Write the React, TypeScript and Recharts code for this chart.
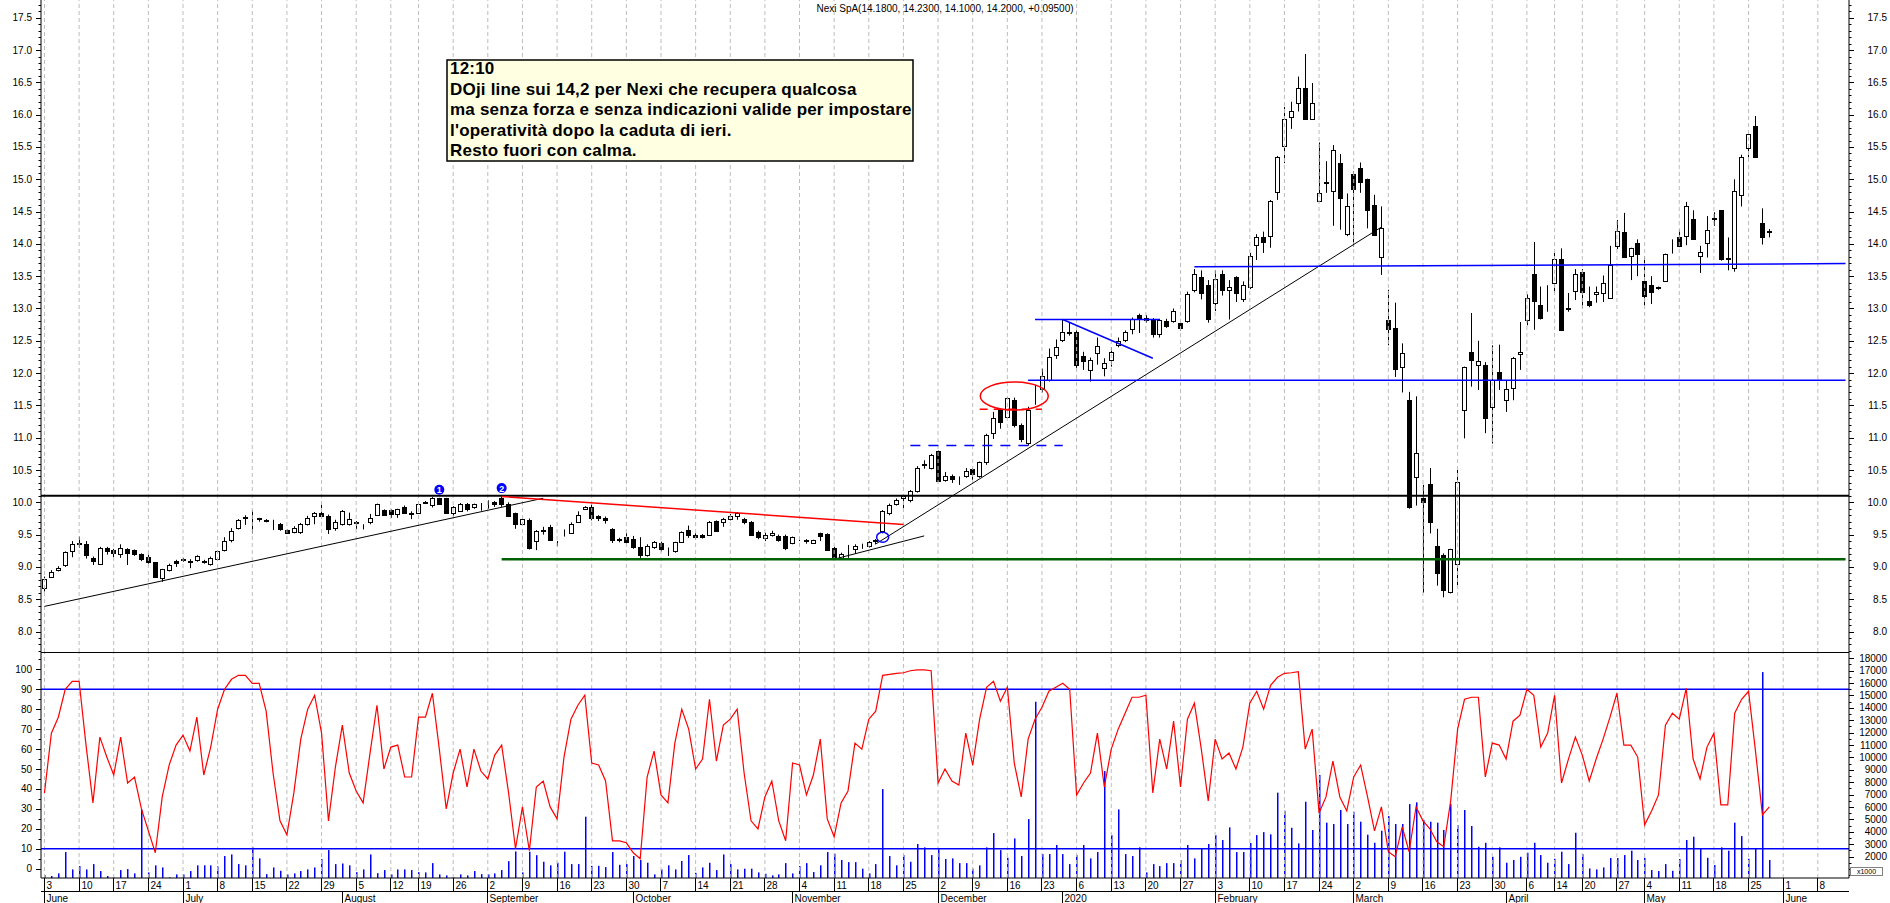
import React from "react";
import { Bar, ComposedChart, Line, ReferenceDot, ReferenceLine, XAxis, YAxis } from "recharts";

const FONT = "'Liberation Sans', Arial, sans-serif";

// trading days, one list per month
const JUN_2019 = [3, 4, 5, 6, 7, 10, 11, 12, 13, 14, 17, 18, 19, 20, 21, 24, 25, 26, 27, 28];
const JUL_2019 = [1, 2, 3, 4, 5, 8, 9, 10, 11, 12, 15, 16, 17, 18, 19, 22, 23, 24, 25, 26, 29, 30, 31];
const AUG_2019 = [1, 2, 5, 6, 7, 8, 9, 12, 13, 14, 16, 19, 20, 21, 22, 23, 26, 27, 28, 29, 30];
const SEP_2019 = [2, 3, 4, 5, 6, 9, 10, 11, 12, 13, 16, 17, 18, 19, 20, 23, 24, 25, 26, 27, 30];
const OCT_2019 = [1, 2, 3, 4, 7, 8, 9, 10, 11, 14, 15, 16, 17, 18, 21, 22, 23, 24, 25, 28, 29, 30, 31];
const NOV_2019 = [1, 4, 5, 6, 7, 8, 11, 12, 13, 14, 15, 18, 19, 20, 21, 22, 25, 26, 27, 28, 29];
const DEC_2019 = [2, 3, 4, 5, 6, 9, 10, 11, 12, 13, 16, 17, 18, 19, 20, 23, 27, 30];
const JAN_2020 = [2, 3, 6, 7, 8, 9, 10, 13, 14, 15, 16, 17, 20, 21, 22, 23, 24, 27, 28, 29, 30, 31];
const FEB_2020 = [3, 4, 5, 6, 7, 10, 11, 12, 13, 14, 17, 18, 19, 20, 21, 24, 25, 26, 27, 28];
const MAR_2020 = [2, 3, 4, 5, 6, 9, 10, 11, 12, 13, 16, 17, 18, 19, 20, 23, 24, 25, 26, 27, 30, 31];
const APR_2020 = [1, 2, 3, 6, 7, 8, 9, 14, 15, 16, 17, 20, 21, 22, 23, 24, 27, 28, 29, 30];
const MAY_2020 = [4, 5, 6, 7, 8, 11, 12, 13, 14, 15, 18, 19, 20, 21, 22, 25, 26, 27, 28, 29];
const JUN_2020 = [1, 2, 3, 4, 5, 8, 9, 10, 11, 12];

const MONTHS: [string, number[]][] = [
  ["2019-06", JUN_2019], ["2019-07", JUL_2019], ["2019-08", AUG_2019], ["2019-09", SEP_2019],
  ["2019-10", OCT_2019], ["2019-11", NOV_2019], ["2019-12", DEC_2019], ["2020-01", JAN_2020],
  ["2020-02", FEB_2020], ["2020-03", MAR_2020], ["2020-04", APR_2020], ["2020-05", MAY_2020],
  ["2020-06", JUN_2020],
];
const MONTH_LABELS = ["June", "July", "August", "September", "October", "November", "December", "2020", "February", "March", "April", "May", "June"];
const SKIPPED_WEEKS = ["2019-12-30"];

const OPEN = [
  8.68, 8.85, 8.95, 9.03, 9.24, 9.36, 9.35, 9.14, 9.04, 9.30,
  9.26, 9.20, 9.28, 9.26, 9.20, 9.16, 9.07, 8.83, 8.95, 9.09,
  9.13, 9.09, 9.10, 9.09, 9.04, 9.13, 9.26, 9.42, 9.61, 9.75,
  9.76, 9.75, 9.73, 9.71, 9.66, 9.57, 9.54, 9.54, 9.67, 9.79,
  9.84, 9.79, 9.61, 9.67, 9.67, 9.69, 9.63, 9.69, 9.80, 9.88,
  9.88, 9.82, 9.92, 9.84, 9.83, 9.99, 9.96, 10.06, 10.06, 9.84,
  9.87, 9.98, 9.92, 9.93, 9.94, 10.01, 10.06, 9.97, 9.83, 9.67,
  9.73, 9.40, 9.56, 9.62, 9.37, 9.49, 9.53, 9.70, 9.89, 9.93,
  9.79, 9.76, 9.58, 9.43, 9.47, 9.43, 9.31, 9.18, 9.31, 9.37,
  9.27, 9.24, 9.38, 9.57, 9.49, 9.49, 9.50, 9.71, 9.69, 9.74,
  9.79, 9.74, 9.70, 9.54, 9.44, 9.50, 9.48, 9.48, 9.37, 9.44,
  9.41, 9.37, 9.52, 9.51, 9.30, 9.14, 9.21, 9.27, 9.32, 9.32,
  9.40, 9.55, 9.84, 9.97, 10.06, 10.04, 10.17, 10.58, 10.53, 10.79,
  10.34, 10.41, 10.35, 10.41, 10.51, 10.40, 10.62, 11.08, 11.43, 11.32,
  11.59, 11.19, 10.92, 11.70, 11.75, 11.89, 12.28, 12.51, 12.62, 12.64,
  12.27, 12.05, 12.31, 12.08, 12.21, 12.43, 12.52, 12.69, 12.90, 12.86,
  12.83, 12.60, 12.81, 12.80, 12.78, 12.81, 13.29, 13.48, 13.36, 13.09,
  13.53, 13.28, 13.48, 13.15, 13.34, 13.99, 14.11, 14.12, 14.81, 15.52,
  15.97, 16.18, 16.41, 15.94, 14.67, 14.95, 14.82, 15.25, 14.16, 15.08,
  15.17, 15.01, 14.60, 13.80, 12.82, 12.70, 12.09, 11.58, 10.39, 10.06,
  10.28, 9.33, 9.19, 8.61, 9.04, 11.43, 12.33, 12.12, 12.12, 11.48,
  12.01, 11.58, 11.77, 12.29, 12.82, 13.53, 13.06, 12.99, 13.40, 13.76,
  12.99, 13.27, 13.56, 13.11, 13.23, 13.24, 13.17, 13.97, 14.18, 13.82,
  14.02, 13.42, 13.37, 13.33, 13.42, 13.96, 14.10, 14.12, 14.39, 13.82,
  14.01, 14.40, 14.52, 13.77, 13.62, 14.75, 15.49, 15.82, 14.33, 14.18,
];

const HIGH = [
  8.85, 8.95, 9.01, 9.24, 9.40, 9.47, 9.40, 9.16, 9.31, 9.31,
  9.28, 9.35, 9.29, 9.27, 9.21, 9.19, 9.07, 8.97, 9.05, 9.11,
  9.14, 9.12, 9.18, 9.11, 9.16, 9.26, 9.46, 9.60, 9.74, 9.80,
  9.88, 9.76, 9.74, 9.73, 9.68, 9.58, 9.63, 9.68, 9.79, 9.85,
  10.00, 9.81, 9.73, 9.88, 9.84, 9.71, 9.66, 9.82, 9.98, 9.89,
  9.89, 9.90, 9.95, 9.86, 9.99, 10.02, 10.08, 10.07, 10.07, 9.94,
  9.99, 9.99, 9.98, 9.99, 10.03, 10.02, 10.09, 10.00, 9.84, 9.75,
  9.75, 9.57, 9.62, 9.65, 9.40, 9.58, 9.69, 9.86, 9.94, 9.97,
  9.80, 9.78, 9.60, 9.45, 9.52, 9.48, 9.46, 9.35, 9.40, 9.39,
  9.30, 9.39, 9.55, 9.64, 9.52, 9.51, 9.71, 9.72, 9.76, 9.82,
  9.85, 9.76, 9.71, 9.56, 9.53, 9.56, 9.50, 9.50, 9.47, 9.46,
  9.43, 9.42, 9.53, 9.52, 9.31, 9.22, 9.34, 9.35, 9.36, 9.40,
  9.43, 9.88, 9.98, 10.06, 10.12, 10.19, 10.56, 10.65, 10.75, 10.80,
  10.47, 10.43, 10.40, 10.53, 10.53, 10.63, 11.06, 11.40, 11.45, 11.63,
  11.62, 11.22, 11.48, 11.82, 12.07, 12.38, 12.52, 12.83, 12.78, 12.66,
  12.33, 12.24, 12.55, 12.23, 12.40, 12.55, 12.66, 12.86, 12.92, 12.90,
  12.85, 12.84, 12.84, 13.00, 12.82, 13.26, 13.61, 13.59, 13.44, 13.59,
  13.59, 13.44, 13.50, 13.42, 13.86, 14.15, 14.19, 14.68, 15.36, 16.12,
  16.20, 16.59, 16.94, 16.49, 15.57, 15.28, 15.53, 15.39, 14.78, 15.12,
  15.26, 15.01, 14.76, 14.58, 13.29, 13.09, 12.46, 11.71, 11.64, 10.27,
  10.53, 9.59, 9.21, 9.28, 10.50, 12.10, 12.93, 12.50, 12.17, 12.43,
  12.44, 11.89, 12.25, 12.79, 13.22, 14.03, 13.34, 13.36, 13.86, 13.93,
  13.24, 13.61, 13.61, 13.34, 13.34, 13.51, 13.97, 14.37, 14.48, 13.94,
  14.07, 13.81, 13.50, 13.34, 13.85, 14.07, 14.22, 14.65, 14.52, 13.97,
  14.43, 14.49, 14.52, 14.10, 15.00, 15.38, 15.70, 15.98, 14.55, 14.23,
];

const LOW = [
  8.62, 8.83, 8.93, 9.00, 9.15, 9.30, 9.13, 9.03, 9.03, 9.19,
  9.15, 9.14, 9.03, 9.17, 9.09, 9.05, 8.84, 8.77, 8.93, 9.00,
  9.08, 8.98, 9.08, 9.05, 9.02, 9.10, 9.24, 9.38, 9.58, 9.65,
  9.52, 9.70, 9.69, 9.57, 9.56, 9.52, 9.52, 9.51, 9.64, 9.66,
  9.77, 9.51, 9.56, 9.64, 9.64, 9.59, 9.58, 9.66, 9.79, 9.79,
  9.76, 9.76, 9.82, 9.74, 9.82, 9.98, 9.92, 9.96, 9.83, 9.78,
  9.85, 9.86, 9.90, 9.87, 9.90, 9.93, 9.93, 9.78, 9.59, 9.65,
  9.27, 9.26, 9.50, 9.41, 9.32, 9.47, 9.52, 9.68, 9.88, 9.72,
  9.71, 9.67, 9.37, 9.38, 9.36, 9.28, 9.14, 9.16, 9.28, 9.24,
  9.17, 9.22, 9.37, 9.45, 9.42, 9.44, 9.49, 9.54, 9.62, 9.72,
  9.73, 9.66, 9.49, 9.43, 9.40, 9.47, 9.39, 9.26, 9.35, 9.40,
  9.36, 9.36, 9.40, 9.25, 9.12, 9.12, 9.14, 9.20, 9.28, 9.30,
  9.35, 9.52, 9.80, 9.95, 9.91, 10.00, 10.15, 10.52, 10.51, 10.32,
  10.32, 10.30, 10.27, 10.38, 10.35, 10.38, 10.58, 10.98, 11.14, 11.30,
  11.16, 10.93, 10.88, 11.51, 11.70, 11.87, 12.22, 12.48, 12.58, 12.08,
  12.05, 11.87, 12.13, 11.95, 12.10, 12.40, 12.48, 12.60, 12.62, 12.78,
  12.55, 12.55, 12.70, 12.78, 12.66, 12.78, 13.25, 13.14, 12.78, 12.96,
  13.20, 12.83, 13.10, 13.10, 13.30, 13.75, 13.86, 13.94, 14.68, 15.25,
  15.78, 16.05, 15.93, 15.94, 14.67, 14.79, 14.28, 14.22, 14.12, 13.96,
  14.79, 14.24, 14.13, 13.52, 12.43, 11.94, 11.70, 9.90, 9.95, 8.60,
  9.52, 8.71, 8.53, 8.59, 8.72, 10.99, 11.79, 11.74, 11.07, 10.91,
  11.74, 11.40, 11.58, 12.05, 12.74, 12.67, 12.83, 12.95, 13.24, 12.65,
  12.95, 13.13, 13.00, 13.02, 13.09, 13.10, 13.16, 13.92, 13.79, 13.44,
  13.50, 13.04, 13.07, 13.29, 13.41, 13.85, 13.95, 13.98, 14.08, 13.55,
  13.79, 14.28, 13.74, 13.59, 13.57, 14.58, 15.34, 15.34, 13.99, 14.10,
];

const CLOSE = [
  8.82, 8.92, 8.99, 9.23, 9.35, 9.37, 9.18, 9.09, 9.30, 9.24,
  9.21, 9.30, 9.21, 9.20, 9.13, 9.07, 8.85, 8.96, 9.03, 9.06,
  9.11, 9.08, 9.17, 9.08, 9.14, 9.25, 9.40, 9.55, 9.73, 9.77,
  9.76, 9.74, 9.71, 9.71, 9.59, 9.53, 9.61, 9.67, 9.75, 9.84,
  9.79, 9.58, 9.69, 9.87, 9.74, 9.68, 9.64, 9.75, 9.97, 9.80,
  9.82, 9.89, 9.83, 9.82, 9.97, 10.00, 10.07, 9.98, 9.84, 9.92,
  9.97, 9.89, 9.97, 9.93, 9.94, 9.97, 9.98, 9.79, 9.67, 9.74,
  9.30, 9.55, 9.57, 9.42, 9.37, 9.50, 9.67, 9.81, 9.92, 9.76,
  9.75, 9.72, 9.41, 9.42, 9.39, 9.31, 9.18, 9.32, 9.39, 9.27,
  9.27, 9.38, 9.54, 9.49, 9.46, 9.47, 9.70, 9.56, 9.74, 9.79,
  9.84, 9.69, 9.50, 9.46, 9.50, 9.53, 9.42, 9.30, 9.46, 9.44,
  9.40, 9.41, 9.48, 9.26, 9.13, 9.20, 9.22, 9.32, 9.33, 9.38,
  9.41, 9.86, 9.96, 10.04, 10.10, 10.18, 10.53, 10.60, 10.73, 10.33,
  10.41, 10.36, 10.35, 10.49, 10.44, 10.62, 11.04, 11.30, 11.24, 11.61,
  11.19, 10.98, 11.43, 11.71, 11.95, 12.25, 12.41, 12.64, 12.64, 12.13,
  12.18, 12.21, 12.42, 12.15, 12.33, 12.49, 12.63, 12.83, 12.85, 12.82,
  12.60, 12.82, 12.73, 12.96, 12.70, 13.22, 13.53, 13.24, 12.83, 13.45,
  13.29, 13.34, 13.24, 13.37, 13.82, 14.10, 14.03, 14.67, 15.34, 15.93,
  16.06, 16.41, 15.94, 16.18, 14.78, 14.96, 15.46, 14.71, 14.58, 14.85,
  14.96, 14.52, 14.13, 14.24, 12.69, 12.06, 12.31, 9.92, 10.76, 10.00,
  9.70, 8.90, 8.65, 9.27, 10.32, 12.09, 12.20, 12.19, 11.30, 11.90,
  11.89, 11.75, 12.23, 12.33, 13.17, 13.12, 12.86, 12.99, 13.76, 12.67,
  13.00, 13.53, 13.26, 13.05, 13.25, 13.39, 13.67, 14.20, 13.80, 13.93,
  13.85, 13.20, 13.26, 13.31, 13.84, 13.97, 13.97, 14.59, 14.08, 13.87,
  14.21, 14.38, 13.77, 13.78, 14.82, 15.35, 15.70, 15.34, 14.105, 14.20,
];

// volume in thousands of shares
const VOLUME = [
  520, 440, 650, 2370, 970, 1240, 970, 1400, 840, 440,
  330, 920, 1000, 650, 5800, 730, 1300, 1130, 330, 570,
  570, 840, 1300, 1300, 1300, 1210, 2050, 2180, 1400, 1300,
  2750, 1860, 590, 1130, 860, 570, 650, 840, 970, 1130,
  1800, 2530, 1400, 1450, 1300, 750, 970, 2180, 670, 920,
  570, 970, 970, 920, 750, 730, 1480, 570, 490, 330,
  570, 490, 840, 590, 570, 650, 920, 1640, 2420, 730,
  2400, 2120, 1590, 1300, 1510, 2400, 1400, 1400, 5220, 1260,
  1260, 1160, 2370, 1340, 1400, 2050, 1730, 1510, 570, 970,
  1300, 970, 1650, 2130, 700, 1130, 1510, 920, 2180, 1400,
  970, 1030, 1030, 730, 620, 490, 570, 1480, 650, 1240,
  1480, 760, 1300, 2370, 2240, 1730, 1560, 1560, 1030, 650,
  1400, 7450, 2050, 1300, 2130, 1590, 3020, 2750, 2130, 2670,
  1810, 1860, 1480, 1480, 1030, 1300, 2750, 3900, 2530, 1910,
  3470, 2050, 5030, 14490, 2210, 2210, 2940, 2210, 1400, 2130,
  2940, 1860, 2370, 8900, 3740, 5810, 2210, 2050, 2750, 730,
  1400, 1240, 1480, 1480, 1730, 2940, 1860, 2670, 3020, 3740,
  3340, 4360, 2370, 2370, 3100, 3740, 3980, 3800, 7160, 5700,
  4330, 3070, 6430, 4150, 8580, 4740, 4630, 5760, 4630, 5620,
  4820, 3770, 3120, 4090, 5270, 4630, 4630, 6240, 6380, 4950,
  4820, 4740, 4150, 6240, 4550, 5760, 4470, 2800, 3120, 1990,
  2750, 1510, 1730, 1990, 2320, 3120, 2130, 1510, 1830, 2400,
  1400, 3930, 2210, 1050, 970, 1130, 1890, 1890, 2130, 2480,
  1730, 1910, 920, 840, 1400, 860, 1810, 3340, 3610, 2670,
  1910, 1320, 2750, 2480, 4740, 3660, 1830, 2670, 16880, 1730,
];

// oscillator (0-100)
const OSC = [
  38, 68, 76, 90, 94, 94, 62, 33, 66, 56,
  47, 66, 43, 46, 30, 19, 8, 36, 52, 62,
  67, 59, 76, 47, 61, 80, 90, 95, 97, 97,
  93, 93, 79, 48, 24, 17, 38, 65, 80, 87,
  68, 24, 51, 72, 48, 39, 33, 58, 82, 50,
  61, 62, 46, 46, 76, 76, 88, 60, 30, 48,
  60, 41, 60, 49, 45, 57, 62, 38, 10, 31,
  9, 41, 44, 31, 25, 56, 75, 82, 87, 53,
  52, 44, 14, 14, 13, 8, 5, 46, 59, 37,
  33, 63, 80, 70, 50, 55, 85, 54, 72, 75,
  80, 48, 24, 20, 36, 44, 24, 14, 53, 52,
  37, 47, 65, 25, 16, 33, 39, 63, 60, 75,
  79, 97, 97.5, 98, 98.3, 99.3, 99.7, 99.7, 99.3, 43,
  50, 44, 42, 68, 52, 75, 91, 94, 84, 91,
  53, 36, 65, 75, 81, 89, 91, 93, 90, 37,
  43, 48, 68, 41, 60, 70, 78, 86, 86, 87,
  38, 65, 50, 74, 41, 75, 83, 60, 34, 65,
  55, 58, 50, 61, 83, 89, 80, 92, 96, 98,
  98.3, 98.8, 60, 70, 28, 36, 54, 36, 29, 46,
  52, 36, 19, 31, 8.5, 6, 21, 8.5, 31, 24,
  20, 13.5, 11, 34, 70, 85, 86, 86, 46, 63,
  62, 55, 74, 77, 90, 87, 61, 68, 87, 43,
  55, 66, 57, 44, 55, 65, 76, 88, 62, 62,
  56, 22, 29, 37, 72, 78, 75, 90.5, 55, 45,
  61, 68, 32, 32, 78, 85, 89, 59, 27, 31,
];

const PRICE_LABELS = [8.0, 8.5, 9.0, 9.5, 10.0, 10.5, 11.0, 11.5, 12.0, 12.5, 13.0, 13.5, 14.0, 14.5, 15.0, 15.5, 16.0, 16.5, 17.0, 17.5];
const OSC_LABELS = [0, 10, 20, 30, 40, 50, 60, 70, 80, 90, 100];
// the 1000 label sits under the "x1000" unit box
const VOL_LABELS = [2000, 3000, 4000, 5000, 6000, 7000, 8000, 9000, 10000, 11000, 12000, 13000, 14000, 15000, 16000, 17000, 18000];

const PRICE_MIN = 7.683;
const PRICE_MAX = 17.775;
const OSC_MIN = -4.66;
const OSC_MAX = 108.7;
const VOL_MIN = 280;
const VOL_MAX = 18500;

const PRICE_TICKS = Array.from({ length: 101 }, (_, k) => Math.round((7.7 + k * 0.1) * 10) / 10);
const OSC_TICKS = Array.from({ length: 22 }, (_, k) => k * 5);
const VOL_TICKS = Array.from({ length: 36 }, (_, k) => 500 + k * 500);

const DATES = MONTHS.flatMap(([ym, days]) => days.map((d) => `${ym}-${String(d).padStart(2, "0")}`));

const dow = (d: string) => new Date(d + "T00:00:00Z").getUTCDay();
const WEEK_STARTS = DATES.filter((d, i) => (i === 0 || dow(d) <= dow(DATES[i - 1])) && !SKIPPED_WEEKS.includes(d));
const MONTH_STARTS = DATES.filter((d, i) => i === 0 || d.slice(0, 7) !== DATES[i - 1].slice(0, 7));
const AXIS_TICKS = DATES.filter((d) => WEEK_STARTS.includes(d) || MONTH_STARTS.includes(d));

const ROWS = DATES.map((date, i) => {
  const has = i < OPEN.length;
  return {
    date,
    o: has ? OPEN[i] : null,
    h: has ? HIGH[i] : null,
    l: has ? LOW[i] : null,
    c: has ? CLOSE[i] : null,
    range: has ? [LOW[i], HIGH[i]] : null,
    vol: has ? VOLUME[i] : null,
    osc: has ? OSC[i] : null,
  };
});

// drawings on the price panel (date index, price)
const SEGMENTS = [
  { a: 0, pa: 8.389, b: 72, pb: 10.063, stroke: "#000", w: 1, dash: undefined },
  { a: 66, pa: 10.09, b: 124, pb: 9.655, stroke: "#ff0000", w: 1.5, dash: undefined },
  { a: 114, pa: 9.12, b: 127, pb: 9.48, stroke: "#000", w: 1, dash: undefined },
  { a: 120, pa: 9.355, b: 193, pb: 14.26, stroke: "#000", w: 1, dash: undefined },
  { a: 125, pa: 10.88, b: 147, pb: 10.88, stroke: "#0000ff", w: 1.5, dash: "10 8" },
  { a: 135, pa: 11.44, b: 144, pb: 11.44, stroke: "#ff0000", w: 1.5, dash: "8 6" },
  { a: 142, pa: 11.89, b: 260, pb: 11.89, stroke: "#0000ff", w: 1.5, dash: undefined },
  { a: 143, pa: 12.83, b: 161, pb: 12.83, stroke: "#0000ff", w: 1.5, dash: undefined },
  { a: 147, pa: 12.83, b: 160, pb: 12.23, stroke: "#0000ff", w: 1.5, dash: undefined },
  { a: 166, pa: 13.645, b: 260, pb: 13.695, stroke: "#0000ff", w: 1.5, dash: undefined },
  { a: 66, pa: 9.12, b: 260, pb: 9.12, stroke: "#006000", w: 2.5, dash: undefined },
];
const ELLIPSES = [
  { at: 140, p: 11.645, rx: 34, ry: 14, stroke: "#ff0000" },
  { at: 121, p: 9.46, rx: 6, ry: 5, stroke: "#0000ff" },
];
const MARKERS = [
  { at: 57, p: 10.195, n: "1" },
  { at: 66, p: 10.22, n: "2" },
];
const RESISTANCE = 10.1;

const NOTE_LINES = [
  "12:10",
  "DOji line sui 14,2 per Nexi che recupera qualcosa",
  "ma senza forza e senza indicazioni valide per impostare",
  "l'operatività dopo la caduta di ieri.",
  "Resto fuori con calma.",
];

function Candle(props: any) {
  const { x, y, width, height, payload } = props;
  if (!payload || payload.o == null) return null;
  const { o, h, l, c } = payload;
  const top0 = Math.min(y, y + height);
  const span = Math.abs(height);
  const ppu = span / (h - l);
  const yOf = (v: number) => top0 + (h - v) * ppu;
  const cx = Math.floor(x + width / 2) + 0.5;
  const bt = Math.round(yOf(Math.max(o, c))) + 0.5;
  const bb = Math.round(yOf(Math.min(o, c))) + 0.5;
  const up = c >= o;
  return (
    <g>
      <line x1={cx} x2={cx} y1={top0} y2={top0 + span} stroke="#000" strokeWidth={1} />
      <rect x={cx - 2} y={bt} width={4} height={Math.max(bb - bt, 0)} fill={up ? "#fff" : "#000"} stroke="#000" strokeWidth={1} />
    </g>
  );
}

function VolBar(props: any) {
  const { x, y, width, height } = props;
  if (!height) return null;
  const cx = Math.floor(x + width / 2);
  return <rect x={cx} y={Math.min(y, y + height)} width={1.5} height={Math.abs(height)} fill="#0000ff" />;
}

const isLabel = (labels: number[], v: number) => labels.some((l) => Math.abs(l - v) < 1e-6);

function makeTick(labels: number[], majors: number[], side: "left" | "right", fmt: (v: number) => string) {
  return function Tick(props: any) {
    const { x, y, payload } = props;
    const v = payload.value;
    const labelled = isLabel(labels, v);
    const major = labelled || isLabel(majors, v);
    const len = major ? 5 : 2.5;
    const yy = Math.round(y) + 0.5;
    const s = side === "left" ? -1 : 1;
    return (
      <g>
        <line x1={x} x2={x + s * len} y1={yy} y2={yy} stroke="#000" strokeWidth={1} />
        {labelled && (
          <text x={side === "left" ? x - 9 : x + 38} y={y + 3.5} textAnchor="end" fontSize={10} fontFamily={FONT} fill="#000">
            {fmt(v)}
          </text>
        )}
      </g>
    );
  };
}

const PriceLeft = makeTick(PRICE_LABELS, [], "left", (v) => v.toFixed(1));
const PriceRight = makeTick(PRICE_LABELS, [], "right", (v) => v.toFixed(1));
const OscLeft = makeTick(OSC_LABELS, [], "left", (v) => String(v));
const VolRight = makeTick(VOL_LABELS, [1000], "right", (v) => String(v));

function DateTick(props: any) {
  const { x, y, payload } = props;
  const d: string = payload.value;
  const wk = WEEK_STARTS.includes(d);
  const mi = MONTH_STARTS.indexOf(d);
  const cx = Math.floor(x) + 0.5;
  return (
    <g>
      {wk && <line x1={cx} x2={cx} y1={y} y2={y + 13} stroke="#000" />}
      {wk && (
        <text x={cx + 2} y={y + 10.5} fontSize={10} fontFamily={FONT} fill="#000">
          {Number(d.slice(8))}
        </text>
      )}
      {mi >= 0 && <line x1={cx} x2={cx} y1={y + 13} y2={y + 25} stroke="#000" />}
      {mi >= 0 && (
        <text x={cx + 2} y={y + 23.5} fontSize={10} fontFamily={FONT} fill="#000">
          {MONTH_LABELS[mi]}
        </text>
      )}
    </g>
  );
}

export default function App() {
  const k = OPEN.length - 1;
  const title = `Nexi SpA(${OPEN[k].toFixed(4)}, ${HIGH[k].toFixed(4)}, ${LOW[k].toFixed(4)}, ${CLOSE[k].toFixed(4)}, +${(CLOSE[k] - CLOSE[k - 1]).toFixed(5)})`;

  return (
    <div style={{ position: "absolute", left: 0, top: 0, width: 1890, height: 903, background: "#fff", overflow: "hidden", fontFamily: FONT }}>
      <style>{"body{margin:0;overflow:hidden}"}</style>

      <div style={{ position: "absolute", left: 0, top: 0 }}>
        <ComposedChart width={1890} height={652} data={ROWS} margin={{ top: 0, right: 0, bottom: 0, left: 0 }}>
          <XAxis dataKey="date" hide />
          <YAxis
            yAxisId="p"
            orientation="left"
            width={41}
            type="number"
            domain={[PRICE_MIN, PRICE_MAX]}
            allowDataOverflow
            ticks={PRICE_TICKS}
            interval={0}
            tickSize={0}
            tickMargin={0}
            tickLine={false}
            axisLine={{ stroke: "#000" }}
            tick={PriceLeft}
          />
          <YAxis
            yAxisId="pr"
            orientation="right"
            width={41}
            type="number"
            domain={[PRICE_MIN, PRICE_MAX]}
            allowDataOverflow
            ticks={PRICE_TICKS}
            interval={0}
            tickSize={0}
            tickMargin={0}
            tickLine={false}
            axisLine={{ stroke: "#000" }}
            tick={PriceRight}
          />
          {WEEK_STARTS.map((d) => (
            <ReferenceLine key={d} x={d} yAxisId="p" stroke="#bdbdbd" strokeDasharray="4 3" />
          ))}
          <Bar yAxisId="p" dataKey="range" shape={Candle} isAnimationActive={false} />
          <ReferenceLine y={RESISTANCE} yAxisId="p" stroke="#000" strokeWidth={2} />
          {SEGMENTS.map((s, i) => (
            <ReferenceLine
              key={"s" + i}
              yAxisId="p"
              segment={[{ x: DATES[s.a], y: s.pa }, { x: DATES[s.b], y: s.pb }]}
              stroke={s.stroke}
              strokeWidth={s.w}
              strokeDasharray={s.dash}
            />
          ))}
          {ELLIPSES.map((e, i) => (
            <ReferenceDot
              key={"e" + i}
              yAxisId="p"
              x={DATES[e.at]}
              y={e.p}
              r={e.rx}
              shape={(p: any) => <ellipse cx={p.cx} cy={p.cy} rx={e.rx} ry={e.ry} fill="none" stroke={e.stroke} strokeWidth={1.5} />}
            />
          ))}
          {MARKERS.map((m) => (
            <ReferenceDot
              key={"m" + m.n}
              yAxisId="p"
              x={DATES[m.at]}
              y={m.p}
              r={5}
              shape={(p: any) => (
                <g>
                  <circle cx={p.cx} cy={p.cy} r={5} fill="#0000ff" />
                  <text x={p.cx} y={p.cy + 3.5} textAnchor="middle" fontSize={9} fontWeight="bold" fontFamily={FONT} fill="#fff">
                    {m.n}
                  </text>
                </g>
              )}
            />
          ))}
        </ComposedChart>
      </div>

      <div style={{ position: "absolute", left: 0, top: 652 }}>
        <ComposedChart width={1890} height={251} data={ROWS} margin={{ top: 0, right: 0, bottom: 0, left: 0 }}>
          <XAxis
            dataKey="date"
            height={25}
            ticks={AXIS_TICKS}
            interval={0}
            tickSize={0}
            tickMargin={0}
            tickLine={false}
            axisLine={{ stroke: "#000" }}
            tick={DateTick}
          />
          <YAxis
            yAxisId="o"
            orientation="left"
            width={41}
            type="number"
            domain={[OSC_MIN, OSC_MAX]}
            allowDataOverflow
            ticks={OSC_TICKS}
            interval={0}
            tickSize={0}
            tickMargin={0}
            tickLine={false}
            axisLine={{ stroke: "#000" }}
            tick={OscLeft}
          />
          <YAxis
            yAxisId="v"
            orientation="right"
            width={41}
            type="number"
            domain={[VOL_MIN, VOL_MAX]}
            allowDataOverflow
            ticks={VOL_TICKS}
            interval={0}
            tickSize={0}
            tickMargin={0}
            tickLine={false}
            axisLine={{ stroke: "#000" }}
            tick={VolRight}
          />
          {WEEK_STARTS.map((d) => (
            <ReferenceLine key={d} x={d} yAxisId="o" stroke="#bdbdbd" strokeDasharray="4 3" />
          ))}
          <Bar yAxisId="v" dataKey="vol" shape={VolBar} isAnimationActive={false} />
          <ReferenceLine y={90} yAxisId="o" stroke="#0000ff" strokeWidth={1.5} />
          <ReferenceLine y={10} yAxisId="o" stroke="#0000ff" strokeWidth={1.5} />
          <Line yAxisId="o" dataKey="osc" type="linear" stroke="#ff0000" strokeWidth={1.2} dot={false} isAnimationActive={false} />
        </ComposedChart>
      </div>

      <svg width={1890} height={903} style={{ position: "absolute", left: 0, top: 0, pointerEvents: "none" }}>
        <line x1={41} x2={1849} y1={652.5} y2={652.5} stroke="#000" strokeWidth={1} />
        <line x1={41} x2={1849} y1={891.5} y2={891.5} stroke="#000" strokeWidth={1} />
        <text x={945} y={12} textAnchor="middle" fontSize={10} fontFamily={FONT} fill="#000">
          {title}
        </text>
        <rect x={447} y={60} width={466} height={101} fill="#ffffe1" stroke="#000" strokeWidth={1.5} />
        {NOTE_LINES.map((t, i) => (
          <text key={i} x={450} y={74 + i * 20.5} fontSize={17} fontWeight="bold" letterSpacing={0.2} fontFamily={FONT} fill="#000">
            {t}
          </text>
        ))}
        <rect x={1850.5} y={867.5} width={32} height={8} fill="#fff" stroke="#808080" strokeWidth={1} />
        <text x={1866.5} y={874} textAnchor="middle" fontSize={7} fontFamily={FONT} fill="#000">
          x1000
        </text>
      </svg>
    </div>
  );
}
